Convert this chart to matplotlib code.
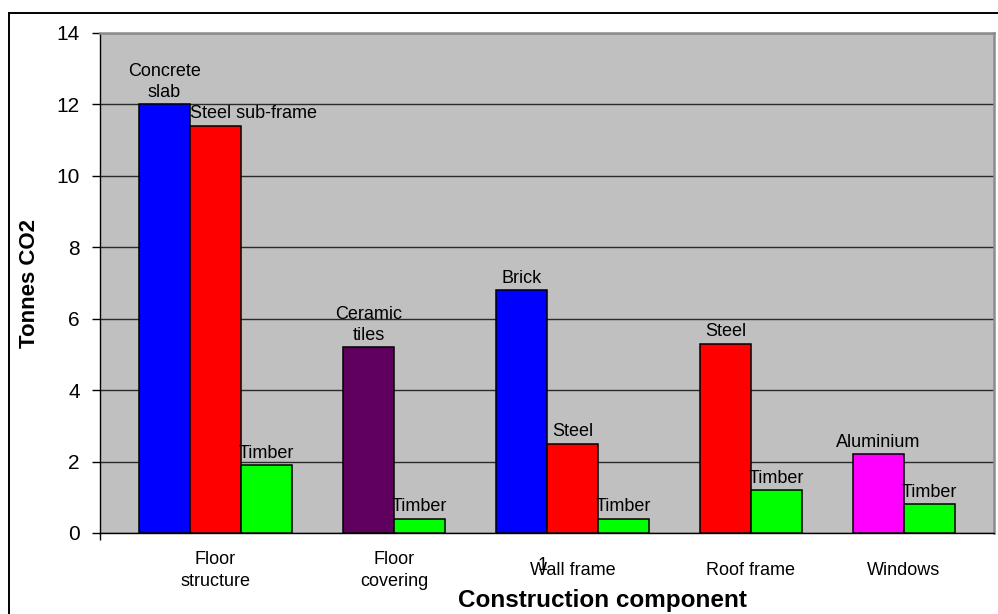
import matplotlib
matplotlib.use('Agg')
import matplotlib.pyplot as plt
from matplotlib.lines import Line2D

plt.rcParams['font.family'] = ['Liberation Sans', 'DejaVu Sans']

# embodied CO2 per material, grouped by construction component
components = ['Floor\nstructure', 'Floor\ncovering', 'Wall frame', 'Roof frame', 'Windows']
floor_structure = ['Concrete\nslab', 'Steel sub-frame', 'Timber']
floor_structure_t = [12.0, 11.4, 1.9]
floor_covering = ['Ceramic\ntiles', 'Timber']
floor_covering_t = [5.2, 0.4]
wall_frame = ['Brick', 'Steel', 'Timber']
wall_frame_t = [6.8, 2.5, 0.4]
roof_frame = ['Steel', 'Timber']
roof_frame_t = [5.3, 1.2]
windows = ['Aluminium', 'Timber']
windows_t = [2.2, 0.8]
y_ticks = [0, 2, 4, 6, 8, 10, 12, 14]

groups = [(floor_structure, floor_structure_t), (floor_covering, floor_covering_t),
          (wall_frame, wall_frame_t), (roof_frame, roof_frame_t),
          (windows, windows_t)]

material_colors = {'Concrete': '#0000ff', 'Brick': '#0000ff', 'Steel': '#ff0000',
                   'Timber': '#00ff00', 'Ceramic': '#5f005f', 'Aluminium': '#ff00ff'}

W, H = 998, 614
fig = plt.figure(figsize=(W / 100, H / 100), dpi=100)
ax = fig.add_axes([100 / W, (H - 533) / H, 894 / W, 500 / H])
ax.set_facecolor('#c0c0c0')

# outer chart frame (runs off the right and bottom edges)
fig.add_artist(Line2D([9 / W, 9 / W], [0, 1 - 13 / H], transform=fig.transFigure,
                      color='black', lw=1.4))
fig.add_artist(Line2D([9 / W, 1], [1 - 13 / H, 1 - 13 / H], transform=fig.transFigure,
                      color='black', lw=1.4))

gap = 0.765
slot = 0
centers = []
for names, tonnes in groups:
    xs = [slot + i for i in range(len(names))]
    cols = [material_colors[n.split()[0]] for n in names]
    ax.bar(xs, tonnes, width=1.0, align='edge', color=cols,
           edgecolor='black', linewidth=1.1, zorder=3)
    for x, name, t in zip(xs, names, tonnes):
        if name == 'Steel sub-frame':
            ax.annotate(name, (x, t), xytext=(0, 2.5), textcoords='offset points',
                        ha='left', va='bottom', fontsize=13, zorder=4)
        else:
            ax.annotate(name, (x + 0.5, t), xytext=(0, 2.5), textcoords='offset points',
                        ha='center', va='bottom', fontsize=13, linespacing=1.3,
                        multialignment='center', zorder=4)
    centers.append(slot + len(names) / 2)
    slot += len(names) + 1

ax.set_xlim(-gap, slot - 1 + gap)
ax.set_ylim(0, 14)
ax.set_yticks(y_ticks)
ax.yaxis.grid(True, color='#2a2a2a', lw=1.0, zorder=1)
ax.set_axisbelow(True)
ax.tick_params(axis='y', direction='out', length=6, width=1, pad=8.5, labelsize=15)

ax.set_xticks(centers)
ax.set_xticklabels(components, fontsize=13, linespacing=1.4)
ax.tick_params(axis='x', length=0, pad=27)
for lbl in ax.get_xticklabels():
    lbl.set_va('center')
ax.set_xticks([-gap], minor=True)
ax.tick_params(axis='x', which='minor', direction='out', length=5, width=1)

for side in ('top', 'right'):
    ax.spines[side].set_color('#8c8c8c')
    ax.spines[side].set_linewidth(1.8)
for side in ('left', 'bottom'):
    ax.spines[side].set_color('black')
    ax.spines[side].set_linewidth(1.0)

ax.set_xlabel('Construction component', fontsize=17.5, fontweight='bold', va='center')
ax.xaxis.set_label_coords((602 - 100) / 894, (533 - 600) / 500)
ax.set_ylabel('Tonnes CO2', fontsize=16, fontweight='bold', labelpad=12)

# stray series marker that sits over the wall frame label
fig.text(543 / W, 1 - 565 / H, '1', fontsize=13, ha='center', va='center')

fig.savefig('out.png', dpi=100)
